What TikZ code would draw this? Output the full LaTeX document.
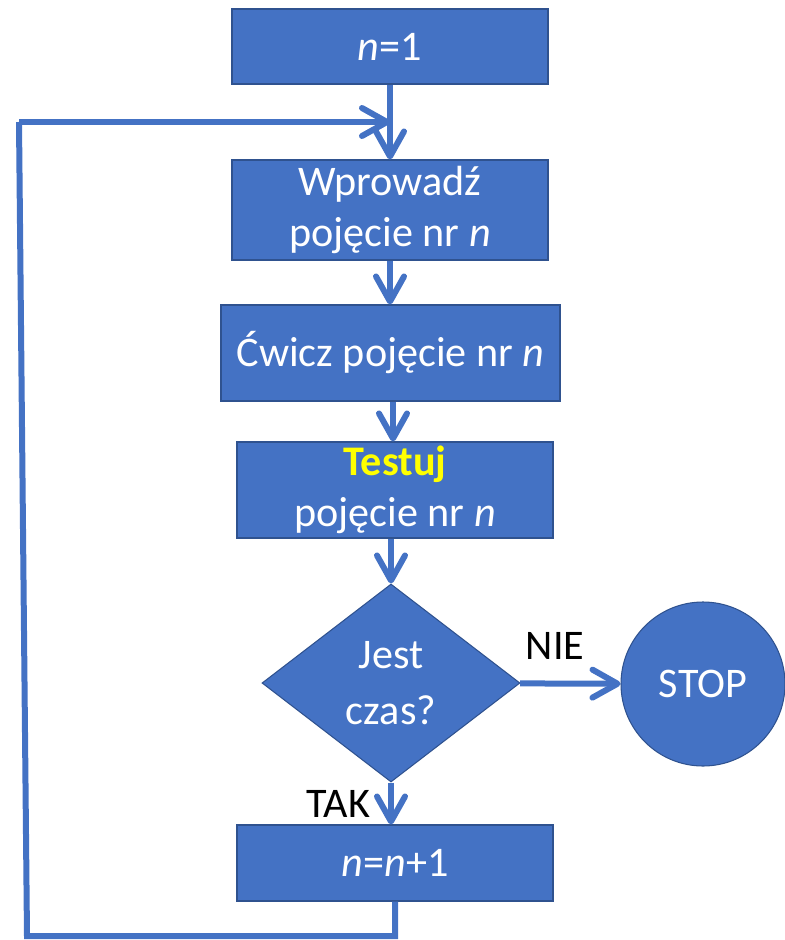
\documentclass[tikz,border=0pt]{standalone}
\usepackage{fontspec}
\setmainfont{Carlito}
\definecolor{boxblue}{RGB}{68,114,196}
\definecolor{edgeblue}{RGB}{47,82,143}
\definecolor{testyellow}{RGB}{255,255,0}
\usetikzlibrary{shapes.geometric, arrows.meta}

\begin{document}
\begin{tikzpicture}[
  block/.style={rectangle, draw=edgeblue, line width=0.6pt, fill=boxblue, text=white, align=center, font=\fontsize{24}{29}\selectfont, minimum width=6.32cm, inner sep=0pt},
  decision/.style={diamond, draw=edgeblue, line width=0.6pt, fill=boxblue, text=white, align=center, font=\fontsize{24}{32}\selectfont, minimum width=5.16cm, minimum height=3.96cm, inner sep=0pt},
  stopnode/.style={circle, draw=edgeblue, line width=0.6pt, fill=boxblue, text=white, font=\fontsize{24}{29}\selectfont, minimum size=3.28cm, inner sep=0pt},
  arr/.style={draw=boxblue, line width=0.12cm, -{Straight Barb[length=0.5cm, width=0.56cm, round]}},
  loop/.style={draw=boxblue, line width=0.12cm},
  lbl/.style={font=\fontsize{24}{29}\selectfont, text=black, inner sep=0pt}
]
\useasboundingbox (0,0) rectangle (15.68,-18.8);

\node[block, minimum height=1.5cm] (start) at (7.8,-0.93) {\textit{n}=1};
\node[block, minimum height=2cm] (intro) at (7.8,-4.2) {Wprowadź\\pojęcie nr \textit{n}};
\node[block, minimum width=6.78cm, minimum height=1.92cm] (train) at (7.81,-7.06) {Ćwicz pojęcie nr \textit{n}};
\node[block, minimum height=1.92cm] (test) at (7.9,-9.8) {\textcolor{testyellow}{\textbf{Testuj}}\\pojęcie nr \textit{n}};
\node[decision] (time) at (7.82,-13.66) {Jest\\czas?};
\node[stopnode] (stop) at (14.06,-13.68) {STOP};
\node[block, minimum height=1.52cm] (next) at (7.9,-17.26) {\textit{n}=\textit{n}+1};

% petla powrotna
\coordinate (join) at (7.8,-2.44);
\coordinate (bl) at (0.54,-18.72);
\coordinate (tl) at (0.38,-2.44);

\draw[arr] (start) -- (intro);
\draw[arr] (intro) -- (intro |- train.north);
\draw[arr] (train.south -| 7.86,0) -- (7.86,0 |- test.north);
\draw[arr] (time.north |- test.south) -- (time.north);
\draw[arr] (time) -- node[lbl, pos=0.35, above=0.42cm]{NIE} (stop);
\draw[arr] (time.south) -- node[lbl, left=0.36cm]{TAK} (time.south |- next.north);
\draw[loop] (next.south) -- (next.south |- bl) -- (bl) -- (tl);
\draw[arr] (tl) -- (join);

\end{tikzpicture}
\end{document}
